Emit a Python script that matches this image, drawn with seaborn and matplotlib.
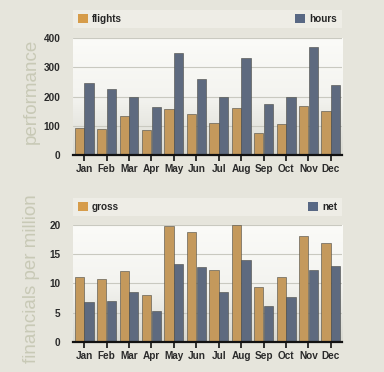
import numpy as np
import pandas as pd
import matplotlib
matplotlib.use("Agg")
import matplotlib.pyplot as plt
import seaborn as sns
from matplotlib.patches import Patch

months = ["Jan", "Feb", "Mar", "Apr", "May", "Jun", "Jul", "Aug", "Sep", "Oct", "Nov", "Dec"]
flights = [92, 88, 133, 87, 158, 142, 108, 162, 77, 106, 168, 150]
hours = [246, 225, 200, 163, 350, 259, 198, 331, 175, 200, 368, 239]
gross = [11.1, 10.8, 12.1, 8.1, 19.9, 18.8, 12.3, 20.0, 9.4, 11.1, 18.1, 16.9]
net = [6.8, 7.0, 8.6, 5.3, 13.3, 12.9, 8.6, 14.1, 6.1, 7.7, 12.3, 13.0]

ORANGE = "#d69c4a"
BLUE = "#586884"
BG = "#e6e5dc"
BAND = "#eeede6"

sns.set_theme(style="white")
plt.rcParams["font.family"] = ["Liberation Sans", "DejaVu Sans"]

fig = plt.figure(figsize=(3.84, 3.72), dpi=100, facecolor=BG)

# gradient for plot background
grad = np.linspace(0, 1, 256).reshape(-1, 1)
cmap = matplotlib.colors.LinearSegmentedColormap.from_list("bg", ["#fbfbf8", "#f4f4f0", "#d9d9d1"])


def panel(rect, band_rect, a, b, names, ymax, yticks, ylabel, label_y):
    ax = fig.add_axes(rect)
    df = pd.DataFrame({"month": months * 2, "value": a + b,
                       "series": [names[0]] * 12 + [names[1]] * 12})
    sns.barplot(data=df, x="month", y="value", hue="series", order=months,
                palette=[ORANGE, BLUE], width=0.86, gap=0.04, ax=ax,
                edgecolor="#4a4a44", linewidth=0.4, legend=False, zorder=3)
    ax.imshow(grad, aspect="auto", cmap=cmap, extent=(-0.5, 11.5, 0, ymax),
              zorder=0, origin="upper")
    ax.set_xlim(-0.5, 11.5)
    ax.set_ylim(0, ymax)
    ax.set_yticks(yticks)
    ax.yaxis.grid(True, color="#c9c9c0", linewidth=0.8, zorder=1)
    ax.set_axisbelow(False)
    for s in ["top", "right", "left"]:
        ax.spines[s].set_visible(False)
    ax.spines["bottom"].set_color("#111111")
    ax.spines["bottom"].set_linewidth(1.6)
    ax.spines["bottom"].set_zorder(5)
    ax.tick_params(axis="x", bottom=True, length=4, width=1.2, color="#111111",
                   pad=2.5, labelsize=7.2)
    ax.tick_params(axis="y", left=False, pad=3, labelsize=7.2)
    for t in ax.get_xticklabels() + ax.get_yticklabels():
        t.set_fontweight("bold")
        t.set_color("#2a2a2a")
    ax.set_xlabel("")
    ax.set_ylabel("")
    fig.text(0.081, label_y, ylabel, rotation=90, ha="center", va="center",
             fontsize=13.5, color="#c8c9b6")

    band = fig.add_axes(band_rect)
    band.set_facecolor(BAND)
    band.set_xticks([])
    band.set_yticks([])
    for s in band.spines.values():
        s.set_visible(False)
    l1 = band.legend(handles=[Patch(facecolor=ORANGE, edgecolor="none", label=names[0])],
                     loc="center left", frameon=False, handlelength=1.0, handleheight=1.0,
                     handletextpad=0.4, borderaxespad=0.1, prop={"weight": "bold", "size": 7.2})
    band.add_artist(l1)
    band.legend(handles=[Patch(facecolor=BLUE, edgecolor="none", label=names[1])],
                loc="center right", frameon=False, handlelength=1.0, handleheight=1.0,
                handletextpad=0.4, borderaxespad=0.1, prop={"weight": "bold", "size": 7.2})
    return ax


panel([0.190, 0.583, 0.701, 0.315], [0.190, 0.925, 0.701, 0.048],
      flights, hours, ["flights", "hours"], 400, [0, 100, 200, 300, 400],
      "performance", 0.755)
panel([0.190, 0.081, 0.701, 0.314], [0.190, 0.419, 0.701, 0.048],
      gross, net, ["gross", "net"], 20, [0, 5, 10, 15, 20],
      "financials per million", 0.25)

fig.savefig("out.png", dpi=100, facecolor=BG)
